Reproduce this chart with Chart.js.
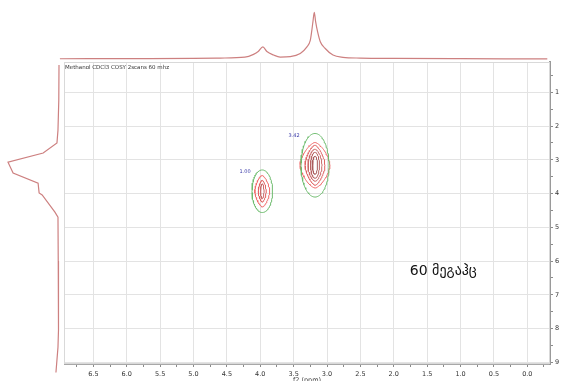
<!DOCTYPE html>
<html>
<head>
<meta charset="utf-8">
<title>Methanol CDCl3 COSY</title>
<script src="https://cdn.jsdelivr.net/npm/chart.js@4.4.1/dist/chart.umd.min.js"></script>
<style>
  html, body { margin: 0; padding: 0; background: #ffffff; }
  #stage { position: relative; width: 563px; height: 381px; overflow: hidden; }
  #stage canvas { position: absolute; left: 0; top: 0; }
</style>
</head>
<body>
<div id="stage">
  <canvas id="projF2" width="563" height="64"></canvas>
  <canvas id="projF1" width="64" height="381"></canvas>
  <canvas id="cosy" width="563" height="381"></canvas>
</div>
<script>
// ---- spectrum data ----
const caption = 'Methanol CDCl3 COSY 2scans 60 mhz';
const freqNote = '60 მეგაჰც';
const f2AxisTitle = 'f2 (ppm)';

// horizontal (f2) 1D projection
const f2Ppm       = [7.0, 6.0, 5.0, 4.6, 4.23, 4.10, 4.03, 3.96, 3.90, 3.80, 3.70, 3.55, 3.40, 3.30, 3.25, 3.23, 3.21, 3.19, 3.17, 3.14, 3.10, 3.03, 2.91, 2.76, 2.5, 2.0, 1.0, 0.0, -0.3];
const f2Intensity = [0.5, 0.8, 1.2, 2,   4,    10,   16,   26,   16,   8.5,  4.2,  5.2,  12,   26,   40,   58,   80,   100,  80,   58,   37,   23,   8.5,  3.6,  2,   1.2, 0.6, 0.4, 0.3];

// vertical (f1) 1D projection
const f1Ppm       = [0.19, 1.23, 2.12, 2.50, 2.80, 3.07, 3.39, 3.69, 3.98, 4.04, 4.55, 4.70, 6.0, 8.04, 8.55, 9.30];
const f1Intensity = [0,    0.4,  2,    4,    31,   100,  90,   41,   39,   33,   8,    2,    1.5, 1,    2,    6];

// cross peaks (f2, f1) and their integrals
const peakF2 = [3.97, 3.18];
const peakF1 = [3.93, 3.16];
const peakIntegrals = ['1.00', '3.42'];
// contour half-widths per level, lowest level first (ppm)
const contourHalfF2 = [[0.154, 0.112, 0.060, 0.027], [0.210, 0.225, 0.150, 0.105, 0.067, 0.037]];
const contourHalfF1 = [[0.631, 0.468, 0.326, 0.222], [0.942, 0.675, 0.593, 0.474, 0.385, 0.267]];

// axis tick labels
const f2TickLabels = ['6.5', '6.0', '5.5', '5.0', '4.5', '4.0', '3.5', '3.0', '2.5', '2.0', '1.5', '1.0', '0.5', '0.0'];
const f1TickLabels = ['1', '2', '3', '4', '5', '6', '7', '8', '9'];

// ---- styling ----
Chart.defaults.font.family = '"DejaVu Sans", sans-serif';
const traceColor = '#cd8080';
const gridColor = '#e3e3e3';
const levelStyle = [
  { color: '#6dbb6d', n: 2.0 },
  { color: '#f06a6a', n: 1.5 },
  { color: '#e06262', n: 1.5 },
  { color: '#c96a6a', n: 1.7 },
  { color: '#b86464', n: 1.9 },
  { color: '#a85c5c', n: 2.0 }
];

const common = {
  responsive: false,
  animation: false,
  devicePixelRatio: 1,
  events: [],
  plugins: { legend: { display: false }, tooltip: { enabled: false } }
};

// closed superellipse outline around a peak centre
function contourPath(cx, cy, rx, ry, n) {
  const pts = [];
  const steps = 96;
  for (let k = 0; k <= steps; k++) {
    const t = (k / steps) * 2 * Math.PI;
    const c = Math.cos(t), s = Math.sin(t);
    pts.push({
      x: cx + rx * Math.sign(c) * Math.pow(Math.abs(c), 2 / n),
      y: cy + ry * Math.sign(s) * Math.pow(Math.abs(s), 2 / n)
    });
  }
  return pts;
}

// ---- f2 projection (top) ----
new Chart(document.getElementById('projF2'), {
  type: 'line',
  data: {
    datasets: [{
      data: f2Ppm.map((p, i) => ({ x: p, y: f2Intensity[i] })),
      borderColor: traceColor,
      borderWidth: 1.2,
      pointRadius: 0,
      fill: false,
      cubicInterpolationMode: 'monotone'
    }]
  },
  options: {
    ...common,
    layout: { padding: 0 },
    scales: {
      x: { type: 'linear', display: false, reverse: true, min: -0.535, max: 7.897 },
      y: { type: 'linear', display: false, min: -10.7, max: 126.35 }
    }
  }
});

// ---- f1 projection (left) ----
new Chart(document.getElementById('projF1'), {
  type: 'line',
  data: {
    datasets: [{
      data: f1Ppm.map((p, i) => ({ x: f1Intensity[i], y: p })),
      borderColor: traceColor,
      borderWidth: 1.2,
      pointRadius: 0,
      fill: false,
      tension: 0
    }]
  },
  options: {
    ...common,
    indexAxis: 'y',
    layout: { padding: 0 },
    scales: {
      x: { type: 'linear', display: false, reverse: true, min: -9.8, max: 115.7 },
      y: { type: 'linear', display: false, reverse: true, min: -1.735, max: 9.554 }
    }
  }
});

// ---- 2D contour map ----
const contourSets = [];
peakF2.forEach((f2, p) => {
  contourHalfF2[p].forEach((rx, lvl) => {
    const st = levelStyle[lvl];
    contourSets.push({
      data: contourPath(f2, peakF1[p], rx, contourHalfF1[p][lvl], st.n),
      showLine: true,
      borderColor: st.color,
      borderWidth: 1,
      pointRadius: 0,
      tension: 0,
      fill: false
    });
  });
});

const f2TickValues = [];
for (let k = -1; k <= 27; k++) f2TickValues.push(k * 0.25);
const f1TickValues = [];
for (let k = 1; k <= 18; k++) f1TickValues.push(k * 0.5);

const labelFrom = (list, v) => {
  const hit = list.find(l => Math.abs(parseFloat(l) - v) < 1e-6);
  return hit === undefined ? '' : hit;
};

const frameAndText = {
  id: 'frameAndText',
  beforeDatasetsDraw(chart) {
    const { ctx, chartArea: a } = chart;
    ctx.save();
    ctx.strokeStyle = '#d9d9d9';
    ctx.lineWidth = 1;
    ctx.strokeRect(a.left + 0.5, a.top + 0.5, a.right - a.left - 1, a.bottom - a.top - 1);
    ctx.restore();
  },
  afterDatasetsDraw(chart) {
    const { ctx, chartArea: a, scales: { x, y } } = chart;
    ctx.save();
    ctx.textBaseline = 'middle';

    ctx.font = '5.5px "DejaVu Sans"';
    ctx.fillStyle = '#333333';
    ctx.textAlign = 'left';
    ctx.fillText(caption, a.left + 1, a.top + 6);

    ctx.font = '5px "DejaVu Sans"';
    ctx.fillStyle = '#3a3aa8';
    ctx.textAlign = 'center';
    peakF2.forEach((f2, i) => {
      const left = x.getPixelForValue(f2 + contourHalfF2[i][0]);
      const top = y.getPixelForValue(peakF1[i] - contourHalfF1[i][0]);
      ctx.fillText(peakIntegrals[i], left - 7, top + 2);
    });

    ctx.font = '14px "DejaVu Sans"';
    ctx.fillStyle = '#111111';
    ctx.textAlign = 'left';
    ctx.textBaseline = 'alphabetic';
    ctx.fillText(freqNote, x.getPixelForValue(1.76), y.getPixelForValue(6.41));

    ctx.font = '6.5px "DejaVu Sans"';
    ctx.fillStyle = '#444444';
    ctx.textAlign = 'center';
    ctx.textBaseline = 'middle';
    ctx.fillText(f2AxisTitle, (a.left + a.right) / 2, 380);
    ctx.restore();
  }
};

new Chart(document.getElementById('cosy'), {
  type: 'scatter',
  data: { datasets: contourSets },
  options: {
    ...common,
    layout: { padding: { left: 64, top: 62, right: 0, bottom: 0 } },
    scales: {
      x: {
        type: 'linear', position: 'bottom', reverse: true, min: -0.34, max: 6.94, bounds: 'data',
        afterBuildTicks: s => { s.ticks = f2TickValues.map(v => ({ value: v })); },
        afterFit: s => { s.height = 17; },
        ticks: {
          autoSkip: false, maxRotation: 0, minRotation: 0, padding: 3,
          color: '#333333', font: { size: 6.5 },
          callback: v => labelFrom(f2TickLabels, v)
        },
        grid: {
          color: c => (Math.abs(c.tick.value * 2 - Math.round(c.tick.value * 2)) < 1e-6 ? gridColor : 'rgba(0,0,0,0)'),
          tickColor: '#8a8a8a', tickLength: 3, drawTicks: true
        },
        border: { display: true, color: '#a8a8a8', width: 1 }
      },
      y: {
        type: 'linear', position: 'right', reverse: true, min: 0.1, max: 9.05, bounds: 'data',
        afterBuildTicks: s => { s.ticks = f1TickValues.map(v => ({ value: v })); },
        afterFit: s => { s.width = 13; },
        ticks: {
          autoSkip: false, padding: 2,
          color: '#333333', font: { size: 6.5 },
          callback: v => labelFrom(f1TickLabels, v)
        },
        grid: {
          color: c => (Math.abs(c.tick.value - Math.round(c.tick.value)) < 1e-6 ? gridColor : 'rgba(0,0,0,0)'),
          tickColor: '#8a8a8a', tickLength: 3, drawTicks: true
        },
        border: { display: true, color: '#9a9a9a', width: 2 }
      }
    }
  },
  plugins: [frameAndText]
});
</script>
</body>
</html>
